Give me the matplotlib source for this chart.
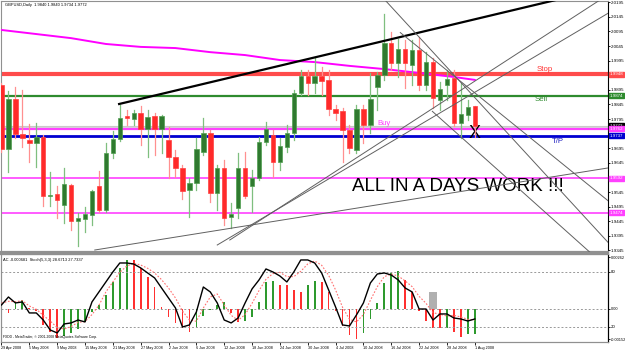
import matplotlib
matplotlib.use('Agg')
import matplotlib.pyplot as plt
from matplotlib.patches import Rectangle

plt.rcParams['font.family'] = ['Liberation Sans', 'DejaVu Sans']

# ---------------- data ----------------
tick_bars = [0, 4, 8, 12, 16, 20, 24, 28, 32, 36, 40, 44, 48, 52, 56, 60, 64, 68]
tick_labels = ['29 Apr 2008', '5 May 2008', '9 May 2008', '15 May 2008', '21 May 2008',
               '27 May 2008', '2 Jun 2008', '6 Jun 2008', '12 Jun 2008', '18 Jun 2008',
               '24 Jun 2008', '30 Jun 2008', '4 Jul 2008', '10 Jul 2008', '16 Jul 2008',
               '22 Jul 2008', '28 Jul 2008', '1 Aug 2008']

opens = [1.9911, 1.9692, 1.9864, 1.9744, 1.9723, 1.9713, 1.9733, 1.9531, 1.9538, 1.9500,
         1.9569, 1.9446, 1.9453, 1.9466, 1.9566, 1.9483, 1.9679, 1.9726, 1.9805, 1.9795,
         1.9816, 1.9761, 1.9805, 1.9761, 1.9723, 1.9665, 1.9627, 1.9552, 1.9576, 1.9682,
         1.9747, 1.9542, 1.9627, 1.9459, 1.9490, 1.9627, 1.9566, 1.9593, 1.9716, 1.9740,
         1.9648, 1.9699, 1.9747, 1.9884, 1.9942, 1.9918, 1.9942, 1.9929, 1.9829, 1.9822,
         1.9757, 1.9689, 1.9829, 1.9774, 1.9905, 1.9946, 2.0055, 1.9987, 2.0035, 1.9980,
         2.0031, 1.9911, 1.9990, 1.9860, 1.9911, 1.9935, 1.9781, 1.9809, 1.9840]
highs = [1.9918, 1.9891, 1.9905, 1.9894, 1.9778, 1.9781, 1.9740, 1.9613, 1.9566, 1.9627,
         1.9572, 1.9473, 1.9494, 1.9552, 1.9617, 1.9713, 1.9754, 1.9843, 1.9826, 1.9826,
         1.9840, 1.9826, 1.9816, 1.9809, 1.9768, 1.9689, 1.9637, 1.9593, 1.9730, 1.9798,
         1.9757, 1.9637, 1.9655, 1.9507, 1.9679, 1.9682, 1.9620, 1.9733, 1.9785, 1.9757,
         1.9730, 1.9774, 1.9894, 1.9963, 1.9963, 2.0004, 1.9973, 1.9963, 1.9843, 1.9833,
         1.9774, 1.9843, 1.9843, 1.9953, 1.9956, 2.0155, 2.0093, 2.0069, 2.0066, 2.0066,
         2.0076, 2.0024, 2.0004, 1.9922, 1.9963, 1.9963, 1.9918, 1.9860, 1.9840]
lows = [1.9682, 1.9613, 1.9730, 1.9699, 1.9648, 1.9631, 1.9497, 1.9497, 1.9456, 1.9439,
        1.9415, 1.9360, 1.9408, 1.9432, 1.9476, 1.9476, 1.9661, 1.9720, 1.9774, 1.9774,
        1.9706, 1.9665, 1.9672, 1.9679, 1.9593, 1.9596, 1.9521, 1.9459, 1.9552, 1.9672,
        1.9511, 1.9483, 1.9432, 1.9422, 1.9456, 1.9524, 1.9476, 1.9586, 1.9706, 1.9596,
        1.9620, 1.9682, 1.9723, 1.9877, 1.9877, 1.9884, 1.9877, 1.9809, 1.9792, 1.9648,
        1.9679, 1.9679, 1.9713, 1.9747, 1.9826, 1.9929, 1.9963, 1.9939, 1.9901, 1.9911,
        1.9894, 1.9894, 1.9833, 1.9826, 1.9860, 1.9771, 1.9730, 1.9792, 1.9734]
closes = [1.9692, 1.9864, 1.9744, 1.9730, 1.9713, 1.9733, 1.9531, 1.9535, 1.9518, 1.9572,
          1.9446, 1.9456, 1.9470, 1.9548, 1.9483, 1.9679, 1.9726, 1.9798, 1.9798, 1.9816,
          1.9761, 1.9802, 1.9761, 1.9805, 1.9665, 1.9627, 1.9548, 1.9576, 1.9692, 1.9747,
          1.9542, 1.9627, 1.9456, 1.9470, 1.9627, 1.9531, 1.9593, 1.9716, 1.9761, 1.9648,
          1.9703, 1.9747, 1.9884, 1.9942, 1.9918, 1.9942, 1.9925, 1.9829, 1.9816, 1.9757,
          1.9696, 1.9829, 1.9774, 1.9864, 1.9946, 2.0055, 1.9987, 2.0035, 1.9987, 2.0031,
          1.9911, 1.9990, 1.9867, 1.9898, 1.9932, 1.9781, 1.9812, 1.9836, 1.9772]

# long moving average (magenta) read at a few bars
ma_bars = [0, 5, 10, 15, 20, 25, 30, 35, 40, 45, 50, 55, 60, 65, 68]
ma_vals = [2.0100, 2.0086, 2.0072, 2.0052, 2.0042, 2.0038, 2.0024, 2.0014, 1.9997,
           1.9990, 1.9977, 1.9966, 1.9953, 1.9939, 1.9929]

# horizontal levels
level_prices = [1.9948, 1.9874, 1.9762, 1.9737, 1.9592, 1.9474]
level_colors = ['#ff4b4b', '#2e8b2e', '#ff40ff', '#0000d0', '#ff40ff', '#ff40ff']
level_widths = [3.0, 1.6, 1.6, 2.0, 1.2, 1.2]
bid_price = 1.9772

# trend lines: (bar, price) anchor pairs; rays continue to the right edge
thick_ray = [(16.9, 1.98464), (57.3, 2.00758)]
thin_rays = [
    [(13.4, 1.93463), (87.1, 1.96272)],
    [(32.8, 1.93806), (83.1, 2.01581)],
    [(31.0, 1.93635), (83.1, 2.01000)],
    [(55.1, 2.02026), (87.1, 1.93737)],
    [(61.9, 1.98214), (84.5, 1.93395)],
    [(57.3, 2.00910), (87.1, 1.95160)],
]

# indicator window
ac_vals = [-0.00015, -0.0002, 0.00035, 0.00045, 0.00005, -0.0001, -0.0008, -0.00116, -0.00146, -0.00136,
           -0.0012, -0.001, -0.00066, -0.00015, 0.0002, 0.00071, 0.00136, 0.00207, 0.00247, 0.00245,
           0.00207, 0.00162, 0.00111, 0.0001, -0.0004, -0.0007, -0.00096, -0.00116, -0.00096, -0.00035,
           -0.00005, 0.0002, 0.00035, -0.0002, -0.00066, -0.0006, -0.0004, 0.00035, 0.00136, 0.0014,
           0.00121, 0.0012, 0.00096, 0.00086, 0.00121, 0.0014, 0.00136, 0.00086, -0.0001, -0.00086,
           -0.0013, -0.0015, -0.0012, -0.0005, 0.0003, 0.0013, 0.0018, 0.0019, 0.00146, 0.00086,
           -0.0001, -0.0006, -0.00096, -0.00098, -0.00094, -0.00116, -0.0014, -0.00126, -0.00125]
stoch_main = [44.0, 52.7, 46.2, 47.3, 35.3, 35.3, 27.6, 16.7, 13.5, 23.3,
              24.4, 27.6, 25.5, 47.3, 58.2, 69.1, 80.0, 89.8, 89.8, 88.7,
              84.4, 78.9, 73.5, 62.5, 51.6, 40.7, 20.0, 22.2, 36.4, 63.6,
              58.2, 46.2, 27.6, 24.4, 29.8, 46.2, 61.5, 71.3, 83.3, 80.0,
              75.6, 69.1, 80.0, 93.1, 93.1, 89.8, 78.9, 60.4, 41.8, 22.2,
              21.1, 33.1, 46.2, 68.0, 77.8, 78.9, 76.7, 71.3, 62.5, 58.2,
              39.6, 39.6, 27.6, 34.2, 34.2, 29.8, 28.7, 26.5, 28.7]
stoch_signal = [46.0, 48.0, 47.6, 48.7, 42.9, 39.3, 32.7, 26.5, 19.3, 17.8,
                20.4, 25.1, 25.8, 33.5, 43.7, 58.2, 69.1, 79.6, 86.5, 89.4,
                87.6, 84.0, 78.9, 71.6, 62.5, 51.6, 37.4, 27.6, 26.2, 40.7,
                52.7, 56.0, 44.0, 32.7, 27.3, 33.5, 45.8, 59.7, 72.0, 78.2,
                79.6, 74.9, 74.9, 80.7, 88.7, 92.0, 87.3, 76.4, 60.4, 41.5,
                28.4, 25.5, 33.5, 49.1, 64.0, 74.9, 77.8, 75.6, 70.2, 64.0,
                53.4, 45.8, 35.6, 33.8, 32.0, 32.7, 30.9, 28.3, 27.7]
marked_ac_bar = 62
marked_ac_height = 0.00086

# ---------------- figure ----------------
W, H = 625, 352
fig = plt.figure(figsize=(W / 100, H / 100), dpi=100)
fig.patch.set_facecolor('white')

ax = fig.add_axes([1 / W, 1 - 252 / H, 607 / W, 251 / H])
x_left, x_right = -0.07, 87.14
ax.set_xlim(x_left, x_right)
ax.set_ylim(1.93395, 2.01992)

bull_body, bull_wick = '#2f7a2f', '#7fbf7f'
bear_body, bear_wick = '#ff2a2a', '#ff9090'

for p, c, w in zip(level_prices, level_colors, level_widths):
    ax.axhline(p, color=c, lw=w, zorder=2)
ax.axhline(bid_price, color='#c8c8c8', lw=0.8, zorder=1.5)
ax.axhline(bid_price - 0.0005, color='#d8d8d8', lw=0.8, zorder=1.5)

ax.plot(ma_bars, ma_vals, color='#ff00ff', lw=1.4, zorder=3)

for i, (o, h, l, c) in enumerate(zip(opens, highs, lows, closes)):
    up = c >= o
    ax.plot([i, i], [l, h], color=bull_wick if up else bear_wick, lw=0.9, zorder=4)
    lo, hi = min(o, c), max(o, c)
    hgt = max(hi - lo, 0.00012)
    ax.add_patch(Rectangle((i - 0.32, lo), 0.64, hgt,
                           facecolor=bull_body if up else bear_body,
                           edgecolor='#4f9f4f' if up else '#ff4040', lw=0.5, zorder=5))

def ray(p1, p2):
    (x1, y1), (x2, y2) = p1, p2
    k = (y2 - y1) / (x2 - x1)
    return [x1, x_right], [y1, y1 + k * (x_right - x1)]

xs, ys = ray(*thick_ray)
ax.plot(xs, ys, color='black', lw=1.6, zorder=6)
for ln in thin_rays:
    xs, ys = ray(*ln)
    ax.plot(xs, ys, color='#606060', lw=0.7, zorder=6)

small = 3.2
ax.text(0.006, 0.992, 'GBPUSD,Daily  1.9840 1.9840 1.9734 1.9772', transform=ax.transAxes,
        fontsize=2.9, va='top', ha='left', color='black')
ax.text(78.0, 1.9966, 'Stop', color='#ff3030', fontsize=5.6, ha='center', va='center')
ax.text(77.6, 1.9862, 'Sell', color='#2e8b2e', fontsize=5.6, ha='center', va='center')
ax.text(55.0, 1.9780, 'Buy', color='#ff40ff', fontsize=5.6, ha='center', va='center')
ax.text(80.0, 1.9717, 'T/P', color='#2020c0', fontsize=5.6, ha='center', va='center')
ax.text(68.0, 1.9745, 'X', color='black', fontsize=13, ha='center', va='center')
ax.text(50.4, 1.9550, 'ALL IN A DAYS WORK !!!', color='black', fontsize=13.5,
        ha='left', va='baseline')

price_ticks = [2.0195, 2.0145, 2.0095, 2.0045, 1.9995, 1.9895, 1.9845, 1.9795, 1.9695,
               1.9645, 1.9545, 1.9495, 1.9445, 1.9395, 1.9345]
ax.yaxis.tick_right()
ax.set_yticks(price_ticks)
ax.set_yticklabels(['%.4f' % t for t in price_ticks])
ax.tick_params(axis='y', labelsize=small, length=1.5, pad=0.5, colors='black', width=0.6)
ax.set_xticks([])
for s in ['top', 'left', 'bottom']:
    ax.spines[s].set_color('#909090')
ax.spines['bottom'].set_linewidth(1.6)
ax.spines['right'].set_color('black')
ax.spines['right'].set_linewidth(0.8)

box_prices = level_prices[:2] + [bid_price] + level_prices[2:]
box_colors = level_colors[:2] + ['black'] + level_colors[2:]
for p, c in zip(box_prices, box_colors):
    ax.annotate('%.4f' % p, xy=(1.0, p), xycoords=('axes fraction', 'data'),
                xytext=(1.4, 0), textcoords='offset points', fontsize=small, color='white',
                va='center', ha='left',
                bbox=dict(boxstyle='square,pad=0.12', fc=c, ec=c), annotation_clip=False,
                zorder=10)

# ---------------- indicator window ----------------
ax2 = fig.add_axes([1 / W, 1 - 342 / H, 607 / W, 88 / H])
ax2.set_xlim(x_left, x_right)
ax2.set_ylim(3.6, 99.6)
ax3 = ax2.twinx()
ax3.set_ylim(-0.001667, 0.002778)
ax3.set_zorder(ax2.get_zorder() - 1)
ax2.patch.set_visible(False)

for i, v in enumerate(ac_vals):
    prev = ac_vals[i - 1] if i > 0 else v
    col = '#2e9a2e' if v > prev else '#ff3030'
    ax3.bar(i, v, width=0.25, color=col, zorder=2)
ax3.add_patch(Rectangle((marked_ac_bar - 0.6, 0), 1.2, marked_ac_height,
                        facecolor='#b0b0b0', edgecolor='none', zorder=1))
ax3.axhline(0, color='#999999', lw=0.7, ls=(0, (2, 2)), zorder=0)

ax2.plot(range(len(stoch_signal)), stoch_signal, color='#ff7070', lw=0.8, ls=(0, (1.5, 1.5)),
         zorder=3)
ax2.plot(range(len(stoch_main)), stoch_main, color='black', lw=1.0, zorder=4)
for lv in (80, 20):
    ax2.axhline(lv, color='#999999', lw=0.7, ls=(0, (2, 2)), zorder=0)

ax2.yaxis.tick_right()
ax2.set_yticks([80, 20])
ax2.set_yticklabels(['80', '20'])
ax2.tick_params(axis='y', labelsize=small, length=1.5, pad=0.5, width=0.6)
ax3.set_yticks([0.00262, 0.0, -0.00152])
ax3.set_yticklabels(['0.00262', '0.00', '-0.00152'])
ax3.tick_params(axis='y', labelsize=2.8, length=1.5, pad=0.5, width=0.6)

ax2.set_xticks(tick_bars)
ax2.set_xticklabels(tick_labels, ha='left')
ax2.tick_params(axis='x', labelsize=2.7, length=2, pad=0.8, width=0.6)
for a in (ax2, ax3):
    for s in ['top', 'left', 'bottom']:
        a.spines[s].set_color('#909090')
    a.spines['right'].set_color('black')
    a.spines['right'].set_linewidth(0.8)
ax2.spines['top'].set_linewidth(1.6)

ax2.text(0.003, 0.96, 'AC -0.000681  Stoch(5,3,3) 28.6713 27.7337', transform=ax2.transAxes,
         fontsize=2.9, va='top', ha='left')
ax2.text(0.003, 0.03, 'FXDD - MetaTrader, \u00a9 2001-2008 MetaQuotes Software Corp.',
         transform=ax2.transAxes, fontsize=2.4, va='bottom', ha='left')

fig.savefig('out.png', dpi=100, facecolor='white')
